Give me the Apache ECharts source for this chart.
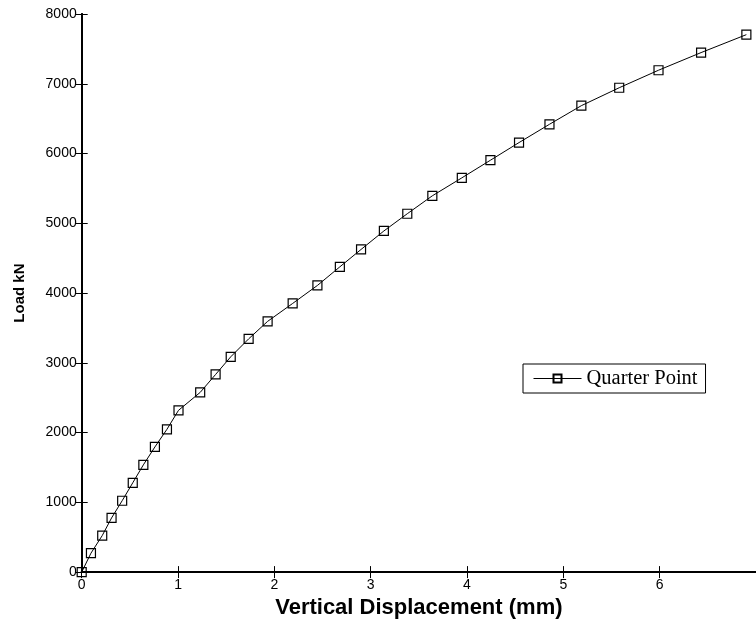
<!DOCTYPE html>
<html>
<head>
<meta charset="utf-8">
<script src="https://cdn.jsdelivr.net/npm/echarts@6/dist/echarts.min.js"></script>
<style>
  html, body { margin: 0; padding: 0; background: #fff; }
  #chart { width: 756px; height: 624px; }
</style>
</head>
<body>
<div id="chart"></div>
<script>
// vertical displacement (mm) at the quarter point
const displacement = [0, 0.096, 0.213, 0.31, 0.42, 0.53, 0.64, 0.76, 0.885, 1.005,
  1.23, 1.39, 1.547, 1.733, 1.93, 2.19, 2.447, 2.68, 2.90, 3.137,
  3.38, 3.64, 3.946, 4.243, 4.54, 4.856, 5.187, 5.58, 5.988, 6.43, 6.90];
// applied load (kN)
const load = [0, 271, 523, 776, 1023, 1280, 1537, 1794, 2047, 2319,
  2576, 2833, 3086, 3343, 3594, 3851, 4109, 4376, 4625, 4890,
  5137, 5394, 5651, 5904, 6157, 6419, 6686, 6943, 7194, 7447, 7704];
const seriesName = 'Quarter Point';
const xRange = [0, 7];
const yRange = [0, 8000];

const myChart = echarts.init(document.getElementById('chart'));

const labelFont = {
  color: '#000',
  fontFamily: 'Liberation Sans, Arial, sans-serif',
  fontSize: 14,
  // plain numbers, no thousands separator
  formatter: v => String(v)
};
const lineStyle = { color: '#000', width: 2 };
const tickStyle = { inside: true, length: 6, lineStyle: { color: '#000', width: 1 } };

const option = {
  animation: false,
  backgroundColor: '#fff',
  grid: {
    left: 81.7,
    top: 14,
    bottom: 50.7,
    right: -2.6,
    containLabel: false
  },
  legend: {
    data: [seriesName],
    left: 523,
    top: 364,
    padding: [4, 8, 4, 10],
    borderColor: '#000',
    borderWidth: 1,
    backgroundColor: '#fff',
    itemWidth: 48,
    itemHeight: 10,
    lineStyle: { width: 1 },
    textStyle: {
      color: '#000',
      fontFamily: 'Liberation Serif, Times New Roman, serif',
      fontSize: 20.5
    }
  },
  xAxis: [
    {
      type: 'value',
      min: xRange[0],
      max: xRange[1],
      interval: 1,
      name: 'Vertical Displacement (mm)',
      nameLocation: 'middle',
      nameGap: 24,
      nameTextStyle: {
        color: '#000',
        fontFamily: 'Liberation Sans, Arial, sans-serif',
        fontWeight: 'bold',
        fontSize: 22
      },
      axisLine: { lineStyle: lineStyle },
      axisTick: tickStyle,
      axisLabel: Object.assign({ margin: 6, showMaxLabel: false }, labelFont),
      splitLine: { show: false }
    },
    {
      // top frame
      type: 'value',
      position: 'top',
      min: xRange[0],
      max: xRange[1],
      interval: 1,
      axisLine: { lineStyle: lineStyle },
      axisTick: tickStyle,
      axisLabel: { show: false },
      splitLine: { show: false }
    }
  ],
  yAxis: [
    {
      type: 'value',
      min: yRange[0],
      max: yRange[1],
      interval: 1000,
      name: 'Load kN',
      nameLocation: 'middle',
      nameGap: 54,
      nameTextStyle: {
        color: '#000',
        fontFamily: 'Liberation Sans, Arial, sans-serif',
        fontWeight: 'bold',
        fontSize: 15
      },
      axisLine: { lineStyle: lineStyle },
      axisTick: tickStyle,
      axisLabel: Object.assign({ margin: 5 }, labelFont),
      splitLine: { show: false }
    },
    {
      // right frame
      type: 'value',
      position: 'right',
      min: yRange[0],
      max: yRange[1],
      interval: 1000,
      axisLine: { lineStyle: lineStyle },
      axisTick: tickStyle,
      axisLabel: { show: false },
      splitLine: { show: false }
    }
  ],
  series: [
    {
      name: seriesName,
      type: 'line',
      xAxisIndex: 0,
      yAxisIndex: 0,
      clip: false,
      symbol: 'rect',
      symbolSize: 9,
      showAllSymbol: true,
      lineStyle: { color: '#000', width: 1 },
      itemStyle: { color: 'rgba(0,0,0,0)', borderColor: '#000', borderWidth: 1.2 },
      data: displacement.map((d, i) => [d, load[i]])
    }
  ]
};

myChart.setOption(option);
</script>
</body>
</html>
